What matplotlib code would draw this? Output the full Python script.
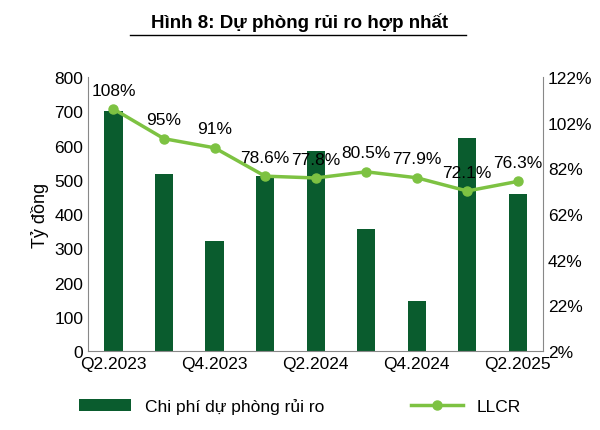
import matplotlib.pyplot as plt
import numpy as np

plt.rcParams['font.family'] = 'Liberation Sans'

# Dữ liệu
quarters = ['Q2.2023', 'Q3.2023', 'Q4.2023', 'Q1.2024', 'Q2.2024',
            'Q3.2024', 'Q4.2024', 'Q1.2025', 'Q2.2025']
provision = [700, 518, 320, 512, 585, 355, 145, 622, 460]
llcr = [108, 95, 91, 78.6, 77.8, 80.5, 77.9, 72.1, 76.3]
llcr_labels = ['108%', '95%', '91%', '78.6%', '77.8%', '80.5%', '77.9%', '72.1%', '76.3%']

bar_color = '#0a5c2e'
line_color = '#7dc242'

fig = plt.figure(figsize=(6, 4.31), dpi=100)
ax = fig.add_axes([0.147, 0.183, 0.758, 0.636])
x = np.arange(len(quarters))

b = ax.bar(x, provision, width=0.36, color=bar_color, label='Chi phí dự phòng rủi ro')
ax.set_ylim(0, 800)
ax.set_yticks(range(0, 801, 100))
ax.set_xlim(-0.5, len(quarters) - 0.5)
ax.set_xticks(x[::2])
ax.set_xticklabels(quarters[::2])
ax.set_ylabel('Tỷ đồng', fontsize=13)
ax.tick_params(labelsize=12.5, length=0)
for s in ['top', 'right']:
    ax.spines[s].set_visible(False)
ax.spines['left'].set_color('#888888')
ax.spines['bottom'].set_color('#888888')

ax2 = ax.twinx()
l, = ax2.plot(x, llcr, color=line_color, linewidth=2.5, marker='o', markersize=6.5, label='LLCR')
ax2.set_ylim(2, 122)
ax2.set_yticks(range(2, 123, 20))
ax2.set_yticklabels([f'{v}%' for v in range(2, 123, 20)])
ax2.tick_params(labelsize=12.5, length=0)
for s in ['top', 'left', 'bottom']:
    ax2.spines[s].set_visible(False)
ax2.spines['right'].set_color('#888888')

for xi, yi, t in zip(x, llcr, llcr_labels):
    ax2.text(xi, yi + 5, t, ha='center', va='bottom', fontsize=12.5)

fig.text(0.5, 0.935, 'Hình 8: Dự phòng rủi ro hợp nhất', ha='center', fontsize=13.5,
         fontweight='bold')
fig.lines.append(plt.Line2D([0.217, 0.777], [0.917, 0.917], transform=fig.transFigure,
                            color='black', linewidth=1))

fig.legend([b, l], ['Chi phí dự phòng rủi ro', 'LLCR'], loc='lower center',
           bbox_to_anchor=(0.5, 0.0), ncol=2, frameon=False, fontsize=12.5,
           columnspacing=5, handlelength=3)

fig.savefig('out.png', dpi=100)
